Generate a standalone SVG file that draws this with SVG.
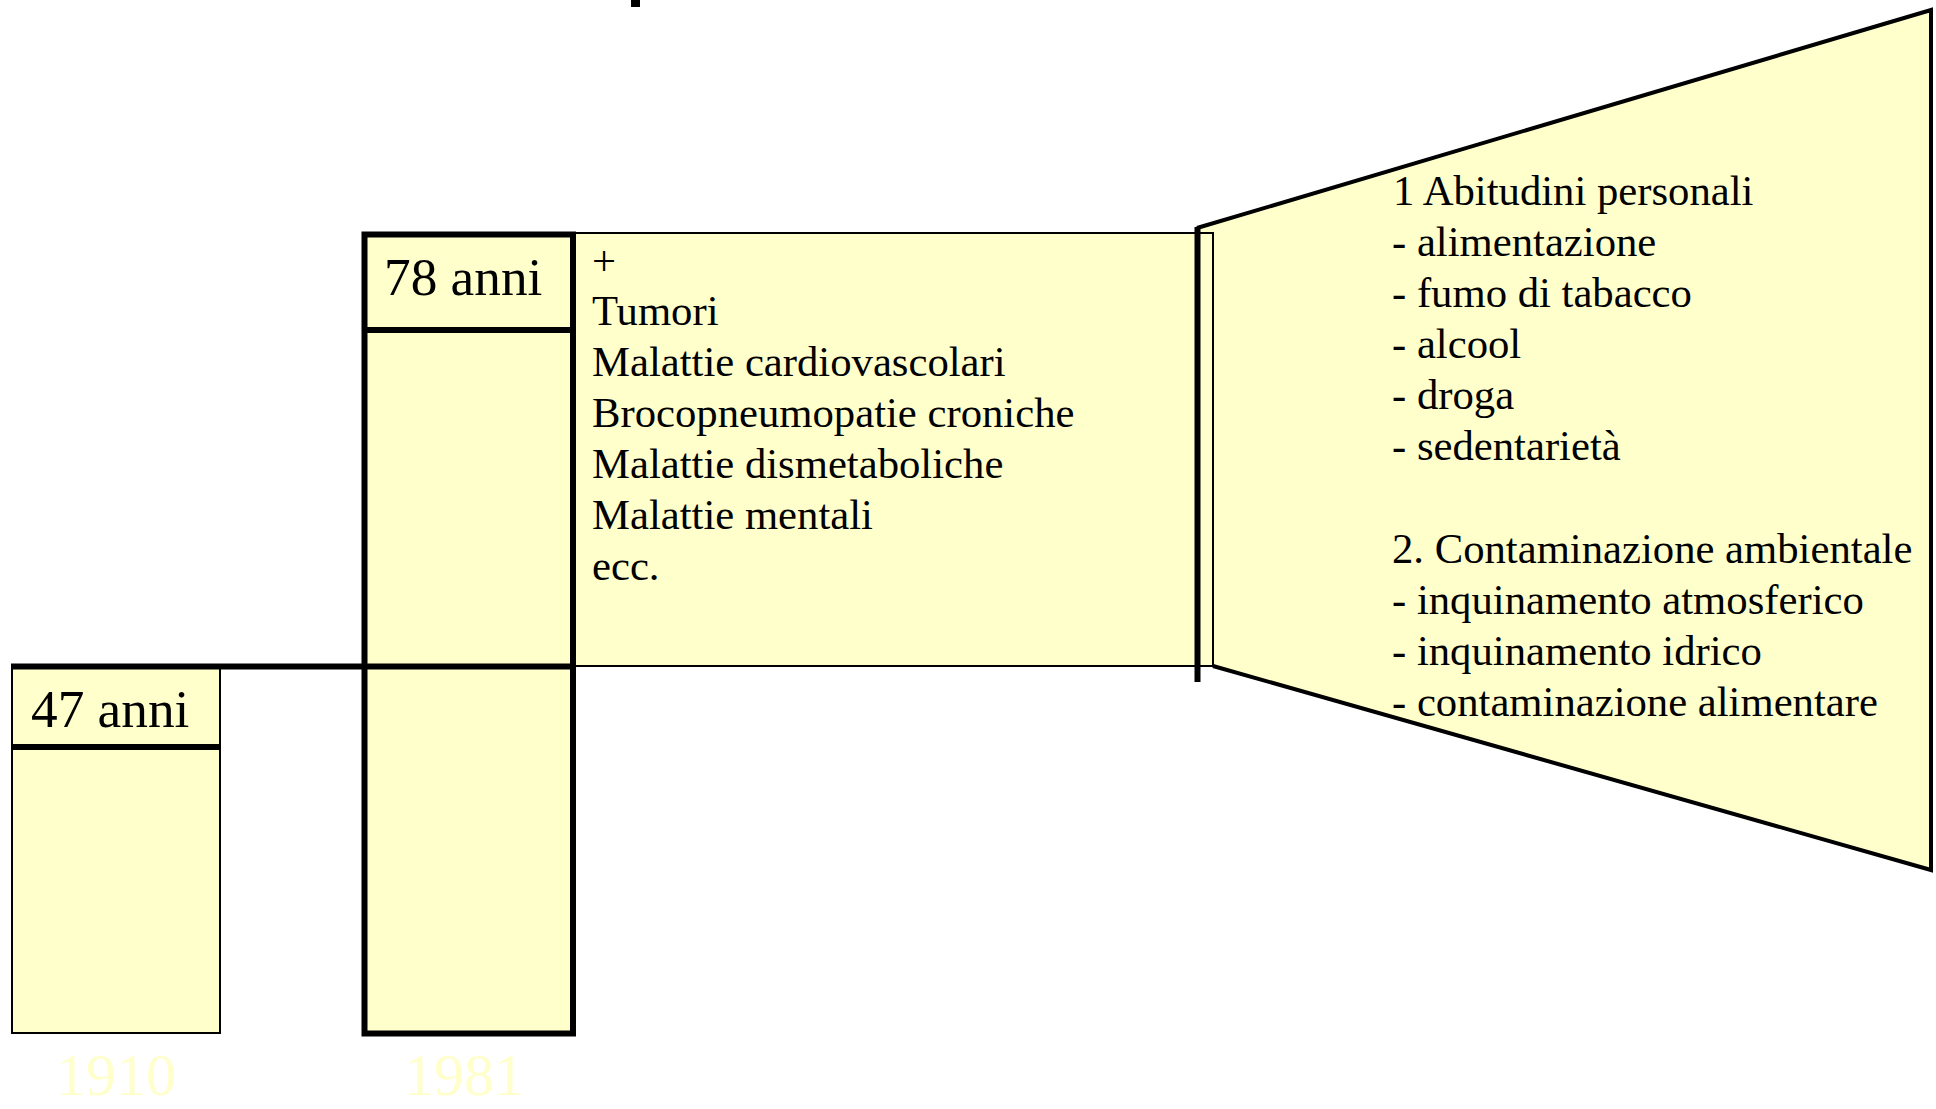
<svg xmlns="http://www.w3.org/2000/svg" width="1936" height="1109" viewBox="0 0 1936 1109">
<style>
.fill{fill:#FFFFCC}
.thin{stroke:#000;stroke-width:2}
.thick{stroke:#000;stroke-width:6}
text{font-family:"Liberation Serif","Times New Roman",serif;fill:#000}
.lst{font-size:42.7px}
.age{font-size:53.3px}
.yr{font-size:60px;fill:#FFFFCC;text-anchor:middle}
</style>
<rect id="title-fragment" x="631" y="0" width="9" height="7" fill="#000"/>
<g id="factors">
<polygon class="fill" points="1197,228 1931,10 1931,870 1213,666 1197,666" stroke="none"/>
<polyline points="1197,228 1931,10 1931,870 1213,666" fill="none" stroke="#000" stroke-width="4" stroke-linejoin="miter"/>
<text class="lst" x="1393" y="205">1 Abitudini personali</text>
<text class="lst" x="1392" y="256">- alimentazione</text>
<text class="lst" x="1392" y="307">- fumo di tabacco</text>
<text class="lst" x="1392" y="358">- alcool</text>
<text class="lst" x="1392" y="409">- droga</text>
<text class="lst" x="1392" y="460">- sedentarietà</text>
<text class="lst" x="1392" y="563">2. Contaminazione ambientale</text>
<text class="lst" x="1392" y="614">- inquinamento atmosferico</text>
<text class="lst" x="1392" y="665">- inquinamento idrico</text>
<text class="lst" x="1392" y="716">- contaminazione alimentare</text>
</g>
<g id="diseases">
<rect class="fill thin" x="573" y="233" width="640" height="433"/>
<text class="lst" x="592" y="275">+</text>
<text class="lst" x="592" y="325">Tumori</text>
<text class="lst" x="592" y="376">Malattie cardiovascolari</text>
<text class="lst" x="592" y="427">Brocopneumopatie croniche</text>
<text class="lst" x="592" y="478">Malattie dismetaboliche</text>
<text class="lst" x="592" y="529">Malattie mentali</text>
<text class="lst" x="592" y="580">ecc.</text>
</g>
<g id="bar-1910">
<rect class="fill thin" x="12" y="666" width="208" height="367"/>
<line class="thick" x1="12" y1="747" x2="220" y2="747"/>
<text class="age" x="31" y="727">47 anni</text>
<text class="yr" x="116" y="1095">1910</text>
</g>
<g id="bar-1981">
<rect class="fill thick" x="364.5" y="234.5" width="208.5" height="799"/>
<line class="thick" x1="364.5" y1="330" x2="573" y2="330"/>
<text class="age" x="384" y="295">78 anni</text>
<text class="yr" x="464" y="1095">1981</text>
</g>
<g id="connectors">
<line class="thick" x1="11" y1="666.5" x2="573" y2="666.5"/>
<line class="thick" x1="1197.5" y1="227" x2="1197.5" y2="682"/>
</g>
</svg>
